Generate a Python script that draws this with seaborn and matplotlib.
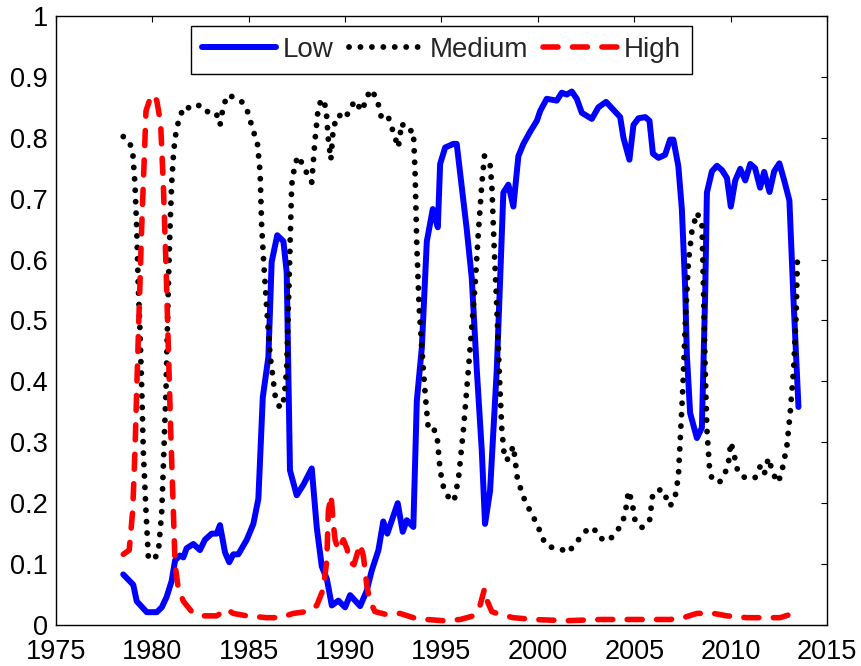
import numpy as np
import pandas as pd
import matplotlib
matplotlib.use("Agg")
import matplotlib.pyplot as plt
import seaborn as sns
from matplotlib.ticker import FuncFormatter

# Regime probabilities
low_year = [1978.49, 1979.01, 1979.19, 1979.71, 1980.23, 1980.49, 1980.74, 1981.00, 1981.18, 1981.43,
            1981.61, 1981.78, 1982.13, 1982.47, 1982.73, 1983.08, 1983.34, 1983.51, 1983.77, 1983.99,
            1984.20, 1984.46, 1984.90, 1985.24, 1985.50, 1985.73, 1986.02, 1986.19, 1986.48, 1986.80,
            1986.97, 1987.14, 1987.49, 1987.83, 1988.27, 1988.53, 1988.79, 1989.05, 1989.31, 1989.65,
            1990.00, 1990.26, 1990.78, 1991.12, 1991.38, 1991.73, 1991.98, 1992.19, 1992.73, 1992.99,
            1993.20, 1993.54, 1993.72, 1993.98, 1994.24, 1994.55, 1994.81, 1994.93, 1995.19, 1995.62,
            1995.79, 1996.31, 1996.57, 1996.83, 1997.09, 1997.26, 1997.52, 1997.87, 1998.21, 1998.47,
            1998.73, 1998.99, 1999.25, 1999.60, 1999.95, 2000.12, 2000.46, 2000.98, 2001.24, 2001.50,
            2001.76, 2002.02, 2002.28, 2002.80, 2003.14, 2003.54, 2003.92, 2004.27, 2004.44, 2004.75,
            2004.96, 2005.22, 2005.57, 2005.79, 2005.97, 2006.26, 2006.60, 2006.86, 2007.03, 2007.29,
            2007.47, 2007.64, 2007.73, 2007.90, 2008.25, 2008.51, 2008.68, 2008.77, 2009.03, 2009.29,
            2009.55, 2009.81, 2010.01, 2010.24, 2010.50, 2010.76, 2011.02, 2011.27, 2011.53, 2011.74,
            2012.02, 2012.26, 2012.53, 2012.78, 2013.05, 2013.26, 2013.52]
low_prob = [0.083, 0.066, 0.039, 0.021, 0.021, 0.029, 0.046, 0.072, 0.106, 0.114,
            0.111, 0.126, 0.133, 0.123, 0.140, 0.150, 0.150, 0.164, 0.119, 0.103,
            0.116, 0.116, 0.140, 0.166, 0.207, 0.374, 0.440, 0.596, 0.640, 0.630,
            0.579, 0.254, 0.213, 0.230, 0.257, 0.160, 0.096, 0.076, 0.032, 0.040,
            0.029, 0.049, 0.031, 0.056, 0.089, 0.123, 0.170, 0.150, 0.200, 0.153,
            0.172, 0.161, 0.368, 0.455, 0.630, 0.683, 0.653, 0.757, 0.784, 0.790,
            0.790, 0.650, 0.570, 0.420, 0.287, 0.166, 0.220, 0.420, 0.710, 0.723,
            0.687, 0.770, 0.790, 0.810, 0.828, 0.844, 0.864, 0.861, 0.874, 0.871,
            0.876, 0.864, 0.841, 0.831, 0.850, 0.859, 0.846, 0.834, 0.800, 0.764,
            0.821, 0.832, 0.834, 0.828, 0.774, 0.767, 0.772, 0.797, 0.797, 0.753,
            0.683, 0.556, 0.444, 0.348, 0.307, 0.324, 0.542, 0.710, 0.745, 0.754,
            0.747, 0.734, 0.687, 0.730, 0.749, 0.730, 0.757, 0.750, 0.718, 0.744,
            0.711, 0.745, 0.758, 0.730, 0.697, 0.536, 0.358]

med_year = [1978.49, 1978.80, 1978.98, 1979.10, 1979.19, 1979.27, 1979.36, 1979.45, 1979.53, 1979.67,
            1979.79, 1980.05, 1980.31, 1980.49, 1980.60, 1980.71, 1980.83, 1980.92, 1981.00, 1981.09,
            1981.18, 1981.40, 1981.69, 1982.04, 1982.47, 1982.82, 1983.16, 1983.34, 1983.51, 1983.68,
            1983.89, 1984.20, 1984.64, 1984.93, 1985.24, 1985.45, 1985.59, 1985.67, 1985.79, 1985.93,
            1986.11, 1986.25, 1986.36, 1986.62, 1986.83, 1986.97, 1987.05, 1987.14, 1987.23, 1987.40,
            1987.57, 1987.83, 1988.09, 1988.27, 1988.44, 1988.61, 1988.79, 1989.01, 1989.13, 1989.26,
            1989.39, 1989.65, 1990.00, 1990.26, 1990.52, 1990.86, 1991.12, 1991.29, 1991.64, 1991.90,
            1992.24, 1992.42, 1992.76, 1992.94, 1993.20, 1993.54, 1993.63, 1993.72, 1993.84, 1993.98,
            1994.15, 1994.32, 1994.58, 1994.76, 1994.93, 1995.10, 1995.36, 1995.65, 1995.88, 1996.14,
            1996.40, 1996.57, 1996.74, 1996.91, 1997.09, 1997.23, 1997.52, 1997.61, 1997.73, 1997.87,
            1997.99, 1998.13, 1998.25, 1998.39, 1998.56, 1998.73, 1998.94, 1999.25, 1999.60, 1999.95,
            2000.38, 2000.81, 2001.33, 2001.59, 2001.84, 2002.19, 2002.54, 2002.88, 2003.19, 2003.66,
            2004.01, 2004.36, 2004.53, 2004.70, 2004.88, 2005.05, 2005.39, 2005.79, 2005.97, 2006.43,
            2006.69, 2006.86, 2007.12, 2007.29, 2007.38, 2007.52, 2007.64, 2007.81, 2007.99, 2008.25,
            2008.51, 2008.59, 2008.68, 2008.77, 2008.90, 2009.03, 2009.42, 2009.72, 2009.89, 2010.01,
            2010.15, 2010.36, 2010.58, 2010.98, 2011.27, 2011.53, 2011.74, 2011.96, 2012.22, 2012.48,
            2012.71, 2012.92, 2013.09, 2013.27, 2013.40, 2013.47]
med_prob = [0.802, 0.794, 0.777, 0.723, 0.650, 0.556, 0.482, 0.388, 0.287, 0.187,
            0.113, 0.106, 0.119, 0.187, 0.287, 0.388, 0.556, 0.656, 0.723, 0.770,
            0.800, 0.834, 0.852, 0.847, 0.854, 0.844, 0.836, 0.838, 0.821, 0.851,
            0.870, 0.867, 0.859, 0.844, 0.811, 0.791, 0.744, 0.656, 0.589, 0.522,
            0.442, 0.408, 0.378, 0.356, 0.371, 0.421, 0.515, 0.623, 0.723, 0.757,
            0.770, 0.754, 0.737, 0.727, 0.797, 0.850, 0.864, 0.850, 0.797, 0.764,
            0.817, 0.838, 0.831, 0.848, 0.861, 0.844, 0.864, 0.879, 0.866, 0.831,
            0.834, 0.817, 0.784, 0.824, 0.811, 0.812, 0.744, 0.623, 0.522, 0.455,
            0.381, 0.321, 0.322, 0.314, 0.254, 0.227, 0.210, 0.203, 0.240, 0.321,
            0.421, 0.489, 0.556, 0.643, 0.723, 0.770, 0.757, 0.723, 0.623, 0.522,
            0.421, 0.321, 0.281, 0.270, 0.281, 0.294, 0.240, 0.210, 0.187, 0.166,
            0.133, 0.126, 0.123, 0.119, 0.130, 0.143, 0.156, 0.160, 0.143, 0.138,
            0.150, 0.166, 0.183, 0.220, 0.203, 0.170, 0.160, 0.170, 0.217, 0.223,
            0.207, 0.195, 0.210, 0.244, 0.300, 0.388, 0.489, 0.596, 0.646, 0.677,
            0.660, 0.556, 0.421, 0.321, 0.260, 0.240, 0.234, 0.250, 0.267, 0.300,
            0.284, 0.254, 0.244, 0.240, 0.242, 0.260, 0.247, 0.274, 0.247, 0.234,
            0.260, 0.294, 0.348, 0.421, 0.509, 0.609]

high_year = [1978.49, 1978.80, 1978.98, 1979.10, 1979.19, 1979.32, 1979.45, 1979.57, 1979.67, 1979.88,
             1980.05, 1980.23, 1980.43, 1980.57, 1980.71, 1980.83, 1980.95, 1981.09, 1981.18, 1981.35,
             1981.61, 1982.04, 1982.64, 1983.34, 1983.86, 1984.20, 1984.90, 1985.93, 1986.62, 1987.31,
             1988.01, 1988.53, 1988.87, 1989.05, 1989.13, 1989.27, 1989.39, 1989.48, 1989.65, 1989.91,
             1990.09, 1990.26, 1990.46, 1990.78, 1990.95, 1991.12, 1991.29, 1991.55, 1992.16, 1992.85,
             1993.54, 1994.24, 1995.10, 1995.97, 1996.66, 1997.00, 1997.23, 1997.38, 1997.61, 1998.04,
             1998.73, 1999.77, 2001.50, 2003.23, 2004.96, 2006.86, 2007.55, 2008.25, 2009.11, 2009.81,
             2010.84, 2012.57, 2013.26, 2013.52]
high_prob = [0.116, 0.123, 0.187, 0.287, 0.388, 0.522, 0.656, 0.757, 0.844, 0.864,
             0.871, 0.861, 0.824, 0.723, 0.589, 0.455, 0.321, 0.187, 0.099, 0.059,
             0.039, 0.022, 0.015, 0.015, 0.026, 0.019, 0.015, 0.012, 0.012, 0.019,
             0.022, 0.032, 0.059, 0.106, 0.187, 0.213, 0.166, 0.140, 0.123, 0.140,
             0.126, 0.103, 0.099, 0.133, 0.113, 0.066, 0.039, 0.022, 0.017, 0.019,
             0.012, 0.009, 0.007, 0.009, 0.015, 0.032, 0.059, 0.039, 0.022, 0.017,
             0.012, 0.009, 0.007, 0.009, 0.009, 0.009, 0.012, 0.019, 0.019, 0.015,
             0.012, 0.012, 0.019, 0.029]

x_ticks = list(range(1975, 2016, 5))
y_ticks = [0, 0.1, 0.2, 0.3, 0.4, 0.5, 0.6, 0.7, 0.8, 0.9, 1.0]

sns.set_theme(style="white")
plt.rcParams['font.family'] = ['Liberation Sans', 'DejaVu Sans']

fig, ax = plt.subplots(figsize=(8.61, 6.66), dpi=100)
fig.subplots_adjust(left=0.065, right=0.9605, bottom=0.0616, top=0.976)

series = [
    ("Low", low_year, low_prob, "#0000ff", 4.3, None),
    ("Medium", med_year, med_prob, "#000000", 4.2, (0.01, 1.95)),
    ("High", high_year, high_prob, "#ff0000", 4.0, (2.7, 2.6)),
]

for name, xs, ys, color, lw, dashes in series:
    df = pd.DataFrame({"Year": xs, "Prob": ys})
    sns.lineplot(data=df, x="Year", y="Prob", ax=ax, color=color, linewidth=lw,
                 label=name, estimator=None, sort=False)
    line = ax.lines[-1]
    if dashes is not None:
        line.set_dashes(dashes)
        line.set_dash_capstyle("round")
    line.set_solid_capstyle("round")

ax.set_xlim(1975, 2015)
ax.set_ylim(0, 1)
ax.set_xticks(x_ticks)
ax.set_yticks(y_ticks)
ax.yaxis.set_major_formatter(FuncFormatter(lambda v, p: f"{v:g}"))
ax.set_xlabel("")
ax.set_ylabel("")

ax.tick_params(direction="in", top=True, right=True, length=4.5, width=0.8,
               labelsize=19.5, colors="black")
ax.tick_params(axis="y", pad=6)
ax.tick_params(axis="x", pad=10)
for sp in ax.spines.values():
    sp.set_color("black")
    sp.set_linewidth(1.0)

leg = ax.legend(loc="upper center", ncol=3, fontsize=20, handlelength=2.66,
                handletextpad=0.25, columnspacing=0.55, borderpad=0.4,
                borderaxespad=0.35, frameon=True, fancybox=False,
                edgecolor="black", framealpha=1)
leg.get_frame().set_linewidth(1.0)

fig.savefig("out.png", dpi=100)
